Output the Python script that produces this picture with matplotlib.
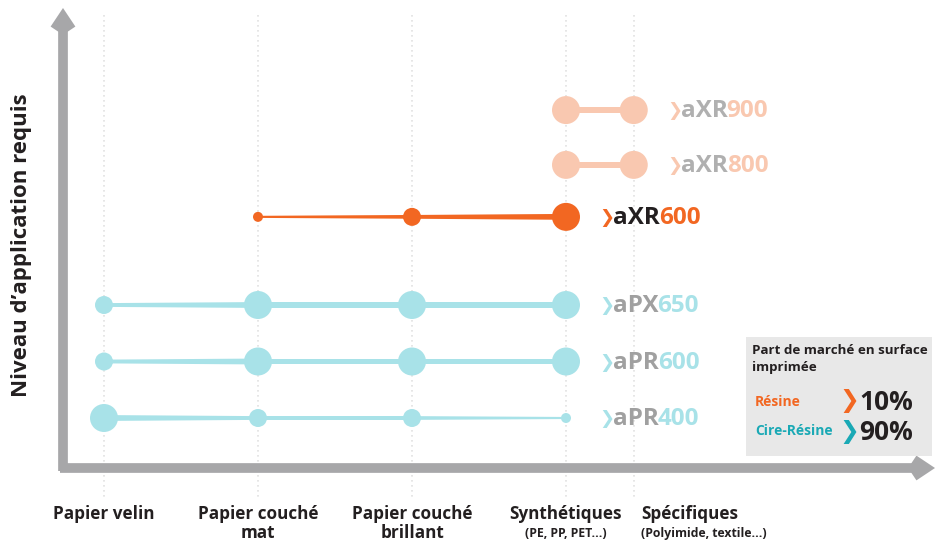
import matplotlib.pyplot as plt
from matplotlib.patches import Rectangle

W, H = 941, 544

# categories along the horizontal axis
categories = ['Papier velin', 'Papier couché\nmat', 'Papier couché\nbrillant',
              'Synthétiques', 'Spécifiques']
sub_labels = ['', '', '', '(PE, PP, PET...)', '(Polyimide, textile...)']
cat_pos = [0, 1, 2, 3, 3.44]

# products: name prefix, number, level, dot size per category (0 = not covered)
prefixes = ['aXR', 'aXR', 'aXR', 'aPX', 'aPR', 'aPR']
numbers = ['900', '800', '600', '650', '600', '400']
levels = [6.45, 5.48, 4.56, 3.0, 2.0, 1.0]
sizes = [
    [0, 0, 0, 3, 3],
    [0, 0, 0, 3, 3],
    [0, 1, 2, 3, 0],
    [2, 3, 3, 3, 0],
    [2, 3, 3, 3, 0],
    [3, 2, 2, 1, 0],
]

peach = '#f9c8b0'
orange = '#f26722'
cyan = '#a8e2e8'
line_colors = [peach, peach, orange, cyan, cyan, cyan]
prefix_colors = ['#b0b0b0', '#b0b0b0', '#231f20', '#a0a0a0', '#a0a0a0', '#a0a0a0']

radius_px = {1: 5, 2: 9, 3: 14}

# pixel <-> data mapping
x_px0, x_scale = 104, 154.0
y_px0, y_scale = 418, 56.5

fig = plt.figure(figsize=(W / 100, H / 100), dpi=100)
ax = fig.add_axes([0, 0, 1, 1])
ax.set_xlim(-x_px0 / x_scale, (W - x_px0) / x_scale)
ax.set_ylim(1 - (H - y_px0) / y_scale, 1 + y_px0 / y_scale)
ax.axis('off')

FONT = ['Open Sans', 'DejaVu Sans']


def fpx(x, y):
    return x / W, 1 - y / H


# dotted guides
for cx in cat_pos:
    ax.plot([cx, cx], [1 + (y_px0 - 15) / y_scale, 1 - (500 - y_px0) / y_scale],
            ls=(0, (1, 2)), color='#e2e2e2', lw=1.2, zorder=0)

# axes arrows
arrow = dict(arrowstyle='->,head_length=0.9,head_width=0.6', lw=7,
             color='#a7a7a9', shrinkA=0, shrinkB=0, joinstyle='miter',
             capstyle='butt')
ax.annotate('', xy=fpx(63, 8), xytext=fpx(63, 471), xycoords='figure fraction',
            arrowprops=arrow)
ax.annotate('', xy=fpx(935, 468), xytext=fpx(60, 468), xycoords='figure fraction',
            arrowprops=arrow)

# tapered lines and dots
for i in range(len(prefixes)):
    y = levels[i]
    pts = [(cat_pos[j], radius_px[s]) for j, s in enumerate(sizes[i]) if s > 0]
    col = line_colors[i]
    for (x0, r0), (x1, r1) in zip(pts[:-1], pts[1:]):
        h0 = 0.21 * r0 / y_scale
        h1 = 0.21 * r1 / y_scale
        ax.fill([x0, x1, x1, x0], [y - h0, y - h1, y + h1, y + h0],
                color=col, lw=0, zorder=2)
    xs = [p[0] for p in pts]
    ss = [(2 * p[1] * 0.72) ** 2 for p in pts]
    ax.scatter(xs, [y] * len(xs), s=ss, color=col, lw=0, zorder=3)

fig.canvas.draw()
renderer = fig.canvas.get_renderer()


def draw_pieces(x, y, pieces):
    for s, color, fam, fs, dx in pieces:
        t = ax.text(x, y, s, color=color, fontsize=fs, fontweight='bold',
                    va='center', ha='left', family=fam)
        bb = t.get_window_extent(renderer)
        x = ax.transData.inverted().transform((bb.x1 + dx, bb.y0))[0]


for i in range(len(prefixes)):
    last = max(cat_pos[j] for j, s in enumerate(sizes[i]) if s > 0)
    draw_pieces(last + 33 / x_scale, levels[i] - 0.02,
                [('❯', line_colors[i], ['DejaVu Sans'], 13, -1),
                 (prefixes[i], prefix_colors[i], FONT, 17.5, -1),
                 (numbers[i], line_colors[i], FONT, 17.5, 0)])

# category labels
for j, name in enumerate(categories):
    xx = x_px0 + x_scale * cat_pos[j]
    ha = 'center'
    if j == 4:
        xx, ha = 641, 'left'
    fig.text(*fpx(xx, 505), name, ha=ha, va='top', fontsize=12.3,
             fontweight='bold', color='#231f20', family=FONT, linespacing=1.05)
    if sub_labels[j]:
        fig.text(*fpx(xx, 527), sub_labels[j], ha=ha, va='top', fontsize=8.8,
                 fontweight='bold', color='#231f20', family=FONT)

fig.text(*fpx(22, 245), "Niveau d’application requis", rotation=90, ha='center',
         va='center', fontsize=16, fontweight='bold', color='#231f20', family=FONT)

# market share box
x0, y0 = fpx(746, 456)
x1, y1 = fpx(932, 337)
fig.patches.append(Rectangle((x0, y0), x1 - x0, y1 - y0, transform=fig.transFigure,
                             facecolor='#e8e8e8', edgecolor='none', zorder=0))
fig.text(*fpx(752, 344), 'Part de marché en surface\nimprimée', ha='left', va='top',
         fontsize=9.6, fontweight='bold', color='#231f20', family=FONT, linespacing=1.4)
fig.text(*fpx(755, 402), 'Résine', ha='left', va='center', fontsize=10,
         fontweight='bold', color=orange, family=FONT)
fig.text(*fpx(755, 431), 'Cire-Résine', ha='left', va='center', fontsize=10,
         fontweight='bold', color='#1aa9b5', family=FONT)
fig.text(*fpx(839, 401), '❯', ha='left', va='center', fontsize=17,
         color=orange, family=['DejaVu Sans'])
fig.text(*fpx(839, 432), '❯', ha='left', va='center', fontsize=17,
         color='#1aa9b5', family=['DejaVu Sans'])
fig.text(*fpx(859, 402), '10%', ha='left', va='center', fontsize=19,
         fontweight='bold', color='#231f20', family=FONT)
fig.text(*fpx(859, 433), '90%', ha='left', va='center', fontsize=19,
         fontweight='bold', color='#231f20', family=FONT)

fig.savefig('out.png', dpi=100)
